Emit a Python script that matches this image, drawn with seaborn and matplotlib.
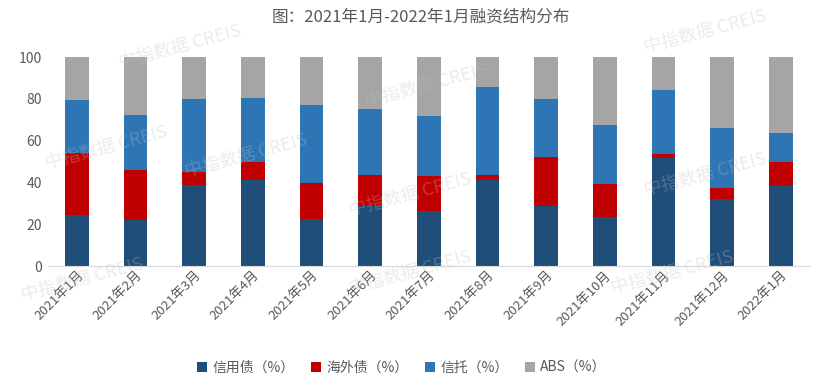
import matplotlib
matplotlib.use('Agg')
import matplotlib.pyplot as plt
import seaborn as sns
import pandas as pd
import numpy as np

# 月份
months = ['2021年1月', '2021年2月', '2021年3月', '2021年4月', '2021年5月', '2021年6月',
          '2021年7月', '2021年8月', '2021年9月', '2021年10月', '2021年11月', '2021年12月',
          '2022年1月']

# 各融资方式占比 (%)
credit = [24.3, 22.2, 38.6, 41.3, 22.7, 28.6, 26.4, 41.3, 28.9, 23.7, 51.8, 32.2, 38.1]
overseas = [30.0, 23.8, 6.5, 8.6, 17.1, 15.2, 16.8, 2.5, 23.5, 15.7, 1.7, 5.3, 11.8]
trust = [25.1, 26.2, 34.7, 30.4, 37.2, 31.3, 28.6, 41.9, 27.4, 28.1, 30.6, 28.5, 13.9]
abs_share = [20.6, 27.8, 20.2, 19.7, 23.0, 24.9, 28.2, 14.3, 20.2, 32.5, 15.9, 34.0, 36.2]

series_names = ['信用债（%）', '海外债（%）', '信托（%）', 'ABS（%）']
colors = ['#1F4E79', '#C00000', '#2E75B6', '#A5A5A5']

df = pd.DataFrame({'month': months, 'credit': credit, 'overseas': overseas,
                   'trust': trust, 'abs': abs_share})
# 累计高度, 从上往下画
cum = df[['credit', 'overseas', 'trust', 'abs']].cumsum(axis=1)

sns.set_style('white')
plt.rcParams['font.family'] = ['Noto Sans CJK SC', 'DejaVu Sans']

fig = plt.figure(figsize=(8.2, 3.89), dpi=100)
ax = fig.add_axes([0.058, 0.316, 0.93, 0.537])

for col, name, c in reversed(list(zip(['credit', 'overseas', 'trust', 'abs'], series_names, colors))):
    sns.barplot(x=df['month'], y=cum[col], color=c, width=0.4, ax=ax,
                label=name, saturation=1, linewidth=0)

ax.set_ylim(0, 100)
ax.set_xlim(-0.5, len(months) - 0.5)
ax.set_yticks(range(0, 101, 20))
ax.set_xlabel('')
ax.set_ylabel('')
for s in ['top', 'right', 'left']:
    ax.spines[s].set_visible(False)
ax.spines['bottom'].set_color('#D9D9D9')
ax.tick_params(axis='y', length=0, labelsize=10, labelcolor='#595959', pad=4)
ax.tick_params(axis='x', which='major', length=0, labelsize=9.5, labelcolor='#595959', pad=2)
ax.set_xticks(np.arange(-0.5, len(months), 1), minor=True)
ax.tick_params(axis='x', which='minor', length=4, color='#D9D9D9', direction='out')
plt.setp(ax.get_xticklabels(), rotation=45, ha='right', rotation_mode='anchor')

handles, labels = ax.get_legend_handles_labels()
order = [labels.index(n) for n in series_names]
ax.legend([handles[i] for i in order], [labels[i] for i in order],
          loc='center', bbox_to_anchor=(0.49, 0.054), bbox_transform=fig.transFigure,
          ncol=4, frameon=False, fontsize=10, handlelength=0.7, handleheight=0.7,
          handletextpad=0.4, columnspacing=1.2, labelcolor='#595959')

fig.text(0.513, 0.955, '图：2021年1月-2022年1月融资结构分布', ha='center', va='center',
         fontsize=12, color='#595959')

# 水印
marks = [(0.22, 0.88), (0.52, 0.78), (0.86, 0.92), (0.13, 0.62), (0.3, 0.6),
         (0.5, 0.5), (0.86, 0.55), (0.1, 0.28), (0.5, 0.3), (0.82, 0.3)]
for mx, my in marks:
    fig.text(mx, my, '中指数据 CREIS', fontsize=13, color='#BFBFBF', alpha=0.3,
             rotation=15, ha='center', va='center')

fig.savefig('out.png', dpi=100)
